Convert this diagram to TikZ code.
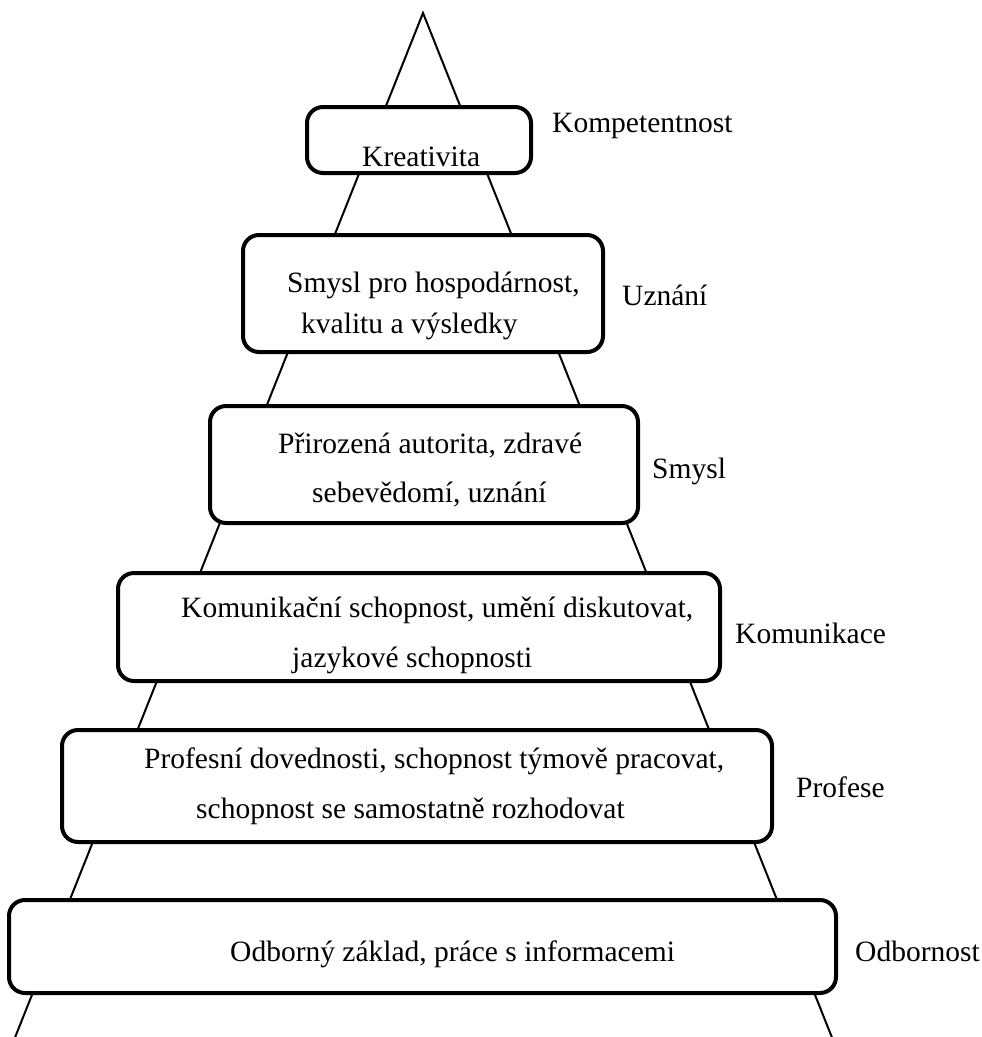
\documentclass[tikz,border=0pt]{standalone}
\usepackage{fontspec}
\setmainfont{Liberation Serif}
\begin{document}
\begin{tikzpicture}[x=1pt,y=-1pt,
  tier/.style={draw,line width=4pt,rounded corners=16pt,fill=white,inner sep=0pt},
  txt/.style={anchor=base west,inner sep=0pt,font=\fontsize{29.5}{35}\selectfont},
  side/.style={line width=2pt}]
\useasboundingbox (0,0) rectangle (982,1037);
\coordinate (apex) at (423,13);
\coordinate (bl) at (14,1040);
\coordinate (br) at (833,1040);
\draw[side] (bl) -- (apex) -- (br);
% tiers
\node[tier,minimum width=224pt,minimum height=66pt] (b1) at (419,140) {};
\node[tier,minimum width=360pt,minimum height=117pt] (b2) at (423,293.5) {};
\node[tier,minimum width=428pt,minimum height=117pt] (b3) at (424,464.5) {};
\node[tier,minimum width=602pt,minimum height=108pt] (b4) at (419,627) {};
\node[tier,minimum width=710pt,minimum height=112pt] (b5) at (417,786) {};
\node[tier,minimum width=827pt,minimum height=93pt] (b6) at (422.5,946.5) {};
% box texts
\node[txt] (t1) at (362,166) {Kreativita};
\node[txt] (t2a) at (287,292) {Smysl pro hospodárnost,};
\node[txt] (t2b) at (301,333) {kvalitu a výsledky};
\node[txt] (t3a) at (278,453) {Přirozená autorita, zdravé};
\node[txt] (t3b) at (312,502) {sebevědomí, uznání};
\node[txt] (t4a) at (181,617) {Komunikační schopnost, umění diskutovat,};
\node[txt] (t4b) at (292,667) {jazykové schopnosti};
\node[txt] (t5a) at (144,768) {Profesní dovednosti, schopnost týmově pracovat,};
\node[txt] (t5b) at (196,818) {schopnost se samostatně rozhodovat};
\node[txt] (t6) at (230,961) {Odborný základ, práce s informacemi};
% side labels
\node[txt] (l1) at (552,132) {Kompetentnost};
\node[txt] (l2) at (622,305) {Uznání};
\node[txt] (l3) at (652,478) {Smysl};
\node[txt] (l4) at (735,643) {Komunikace};
\node[txt] (l5) at (796,797) {Profese};
\node[txt] (l6) at (855,961) {Odbornost};
\end{tikzpicture}
\end{document}
